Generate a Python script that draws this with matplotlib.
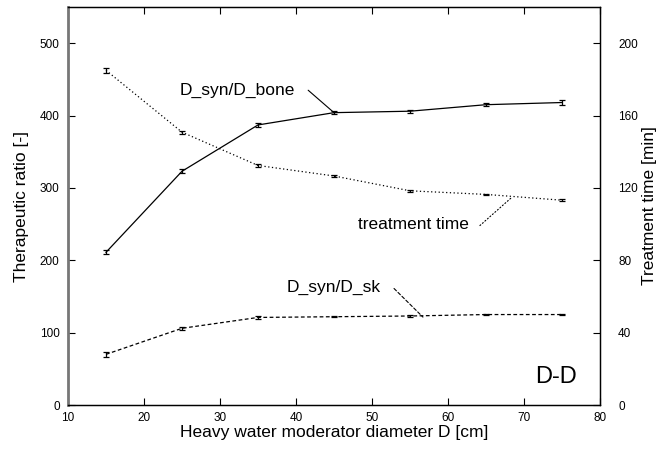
import matplotlib
matplotlib.use("Agg")
import matplotlib.pyplot as plt

plt.rcParams['font.family'] = ['Liberation Sans', 'DejaVu Sans']

# moderator diameter [cm]
diameter = [15, 25, 35, 45, 55, 65, 75]
# therapeutic ratios [-]
ratio_bone = [211, 323, 387, 404, 406, 415, 418]
ratio_bone_err = [3, 3, 3, 2, 2, 2, 3]
ratio_sk = [70, 106, 121, 122, 123, 125, 125]
ratio_sk_err = [3, 2, 2, 1, 1, 1, 1]
# treatment time [min]
treat_time = [185.0, 150.8, 132.4, 126.6, 118.4, 116.4, 113.2]
treat_time_err = [1.5, 0.8, 0.6, 0.4, 0.4, 0.4, 0.6]

fig = plt.figure(figsize=(6.6, 4.51), dpi=100)
ax = fig.add_axes([68/660, 46/451, 532/660, 398/451])
ax2 = ax.twinx()

ebkw = dict(color='black', lw=0.9, elinewidth=0.9, capsize=2.5, capthick=0.9)
ax.errorbar(diameter, ratio_bone, yerr=ratio_bone_err, ls='-', **ebkw)
ax.errorbar(diameter, ratio_sk, yerr=ratio_sk_err, ls=(0, (3, 2)), **ebkw)
ax2.errorbar(diameter, treat_time, yerr=treat_time_err, ls=(0, (1, 2)), **ebkw)

ax.set_xlim(10, 80)
ax.set_ylim(0, 550)
ax2.set_ylim(0, 220)
ax.set_xticks(range(10, 81, 10))
ax.set_yticks(range(0, 501, 100))
ax2.set_yticks(range(0, 201, 40))

ax.tick_params(axis='both', direction='in', top=True, labelsize=8.5, length=5, width=0.8)
ax2.tick_params(axis='y', direction='in', labelsize=8.5, length=5, width=0.8, pad=13)
ax.tick_params(axis='x', pad=5)
ax.tick_params(axis='y', pad=6)

for a in (ax, ax2):
    for s in a.spines.values():
        s.set_linewidth(0.9)
ax.spines['left'].set_color('#777777')
ax.spines['left'].set_linewidth(2)
ax2.spines['left'].set_visible(False)

ax.set_xlabel('Heavy water moderator diameter D [cm]', fontsize=12.5, labelpad=1)
ax.set_ylabel('Therapeutic ratio [-]', fontsize=12.5, labelpad=8)
ax2.set_ylabel('Treatment time [min]', fontsize=12.5, labelpad=3)

# curve labels with leader lines (left-axis data units)
ax.text(24.7, 435, 'D_syn/D_bone', fontsize=12.5, va='center', ha='left')
ax.annotate('', xy=(45, ratio_bone[3]), xytext=(41.6, 435),
            arrowprops=dict(arrowstyle='-', color='black', lw=0.8,
                            shrinkA=0, shrinkB=0))
ax.text(48.2, 250, 'treatment time', fontsize=12.5, va='center', ha='left')
ax.annotate('', xy=(68.4, 287), xytext=(64.2, 248),
            arrowprops=dict(arrowstyle='-', color='black', lw=0.8, ls=(0, (1, 2)),
                            shrinkA=0, shrinkB=0))
ax.text(38.8, 163, 'D_syn/D_sk', fontsize=12.5, va='center', ha='left')
ax.annotate('', xy=(56.7, 121.5), xytext=(52.9, 161),
            arrowprops=dict(arrowstyle='-', color='black', lw=0.8, ls=(0, (3, 2)),
                            shrinkA=0, shrinkB=0))
ax.text(77, 38.7, 'D-D', fontsize=17, ha='right', va='center')

fig.savefig('out.png', dpi=100)
